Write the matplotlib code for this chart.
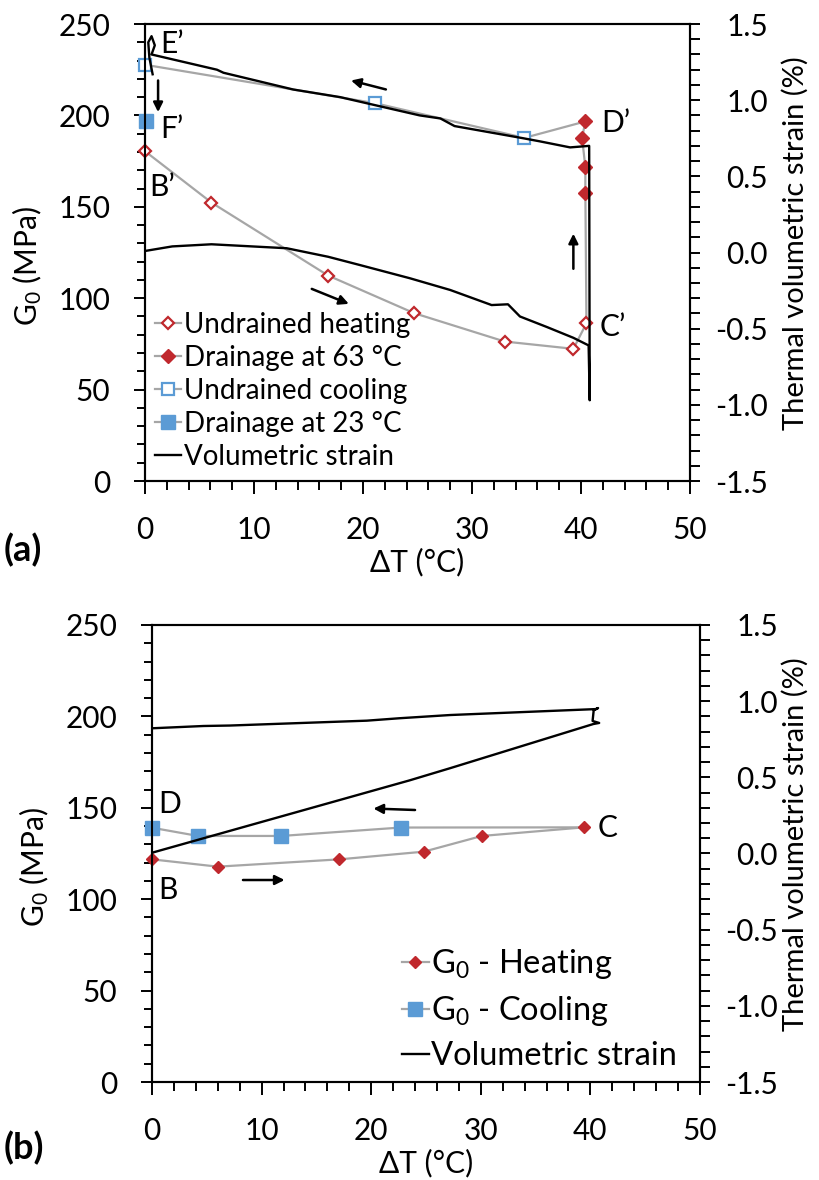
import matplotlib
matplotlib.use('Agg')
import matplotlib.pyplot as plt
from matplotlib.ticker import MultipleLocator, FormatStrFormatter

plt.rcParams['font.family'] = ['Lato', 'DejaVu Sans']
plt.rcParams['mathtext.fontset'] = 'custom'
plt.rcParams['mathtext.rm'] = 'Lato'
plt.rcParams['mathtext.it'] = 'Lato:italic'
plt.rcParams['axes.unicode_minus'] = False

RED = '#C0282D'
BLUE = '#5B9BD5'
GREY = '#A6A6A6'

# ── (a) undrained heating / drainage / undrained cooling ──────────
a_heat_dT = [0.0, 6.1, 16.8, 24.7, 33.0, 39.3, 40.5]
a_heat_G0 = [180.4, 152.3, 112.4, 91.8, 76.3, 72.3, 86.3]
a_drain63_dT = [40.4, 40.4, 40.1, 40.4]
a_drain63_G0 = [157.8, 171.7, 187.7, 196.7]
a_cool_dT = [34.8, 21.1, 0.0]
a_cool_G0 = [187.7, 206.7, 227.7]
a_drain23_dT = [0.1]
a_drain23_G0 = [197.2]

a_strain_dT = [0.0, 2.5, 6.1, 13.0, 16.8, 19.7, 24.3, 28.0, 31.8, 33.3, 34.4,
               36.9, 39.3, 40.7, 40.8, 40.75, 39.0, 36.2, 34.7, 28.4, 27.1,
               25.2, 17.9, 13.6, 7.2, 6.6, 0.6, 0.9, 0.6, 0.3, 0.4, 0.7]
a_strain = [0.01, 0.04, 0.054, 0.028, -0.028, -0.082, -0.169, -0.246, -0.345,
            -0.340, -0.42, -0.49, -0.56, -0.61, -0.97, 0.70, 0.69, 0.73, 0.75,
            0.83, 0.88, 0.90, 1.02, 1.07, 1.18, 1.20, 1.30, 1.36, 1.42, 1.38,
            1.28, 1.17]

# ── (b) drained heating / cooling ─────────────────────────────────
b_heat_dT = [0.0, 6.0, 17.1, 24.8, 30.1, 39.4]
b_heat_G0 = [121.8, 117.8, 121.8, 126.0, 134.6, 139.3]
b_cool_dT = [22.7, 11.8, 4.2, 0.0]
b_cool_G0 = [139.2, 134.6, 134.6, 139.1]

b_strain_dT = [0.0, 23.5, 27.2, 40.27, 40.8, 40.2, 40.3, 40.7, 40.5, 27.2,
               22.6, 19.6, 7.1, 4.7, 0.0]
b_strain = [0.005, 0.48, 0.56, 0.850, 0.857, 0.87, 0.94, 0.955, 0.948, 0.909,
            0.888, 0.872, 0.84, 0.837, 0.822]

FS = 21.5


def style_axes(ax, ax2, left_px, right_label_x):
    ax.set_xlim(0, 50)
    ax.set_ylim(0, 250)
    ax2.set_ylim(-1.5, 1.5)
    ax.xaxis.set_major_locator(MultipleLocator(10))
    ax.xaxis.set_minor_locator(MultipleLocator(2))
    ax.yaxis.set_major_locator(MultipleLocator(50))
    ax.yaxis.set_minor_locator(MultipleLocator(10))
    ax2.yaxis.set_major_locator(MultipleLocator(0.5))
    ax2.yaxis.set_minor_locator(MultipleLocator(0.1))
    ax2.yaxis.set_major_formatter(FormatStrFormatter('%.1f'))
    ax.tick_params(axis='x', which='major', direction='out', length=9.4,
                   width=1.4, pad=16, labelsize=FS)
    ax.tick_params(axis='x', which='minor', direction='out', length=6.5, width=1.4)
    ax.tick_params(axis='y', which='major', direction='out', length=8,
                   width=1.4, pad=17, labelsize=FS)
    ax.tick_params(axis='y', which='minor', direction='out', length=5.8, width=1.4)
    ax2.tick_params(axis='y', which='both', direction='out', length=7.2, width=1.4)
    ax2.tick_params(axis='y', which='major', pad=49, labelsize=FS)
    for lab in ax2.get_yticklabels():
        lab.set_horizontalalignment('right')
    for a in (ax, ax2):
        for sp in a.spines.values():
            sp.set_linewidth(1.5)
    ax.set_xlabel('ΔT (°C)', fontsize=FS)
    ax.xaxis.set_label_coords(0.5, -0.145)
    ax.set_ylabel('G$_0$ (MPa)', fontsize=FS)
    ax.yaxis.set_label_coords(-0.185, 0.47)
    ax2.set_ylabel('Thermal volumetric strain (%)', fontsize=21)
    ax2.yaxis.set_label_coords((right_label_x - left_px) / (ax.get_position().width * 820), 0.52)


def arrow(ax, x0, y0, x1, y1):
    ax.annotate('', xy=(x1, y1), xytext=(x0, y0),
                arrowprops=dict(arrowstyle='-|>', color='black', lw=1.8,
                                mutation_scale=14, shrinkA=0, shrinkB=0))


fig = plt.figure(figsize=(8.2, 11.8), dpi=100)

# ── Panel (a) ─────────────────────────────────────────────────────
ax = fig.add_axes([0.17683, 0.59237, 0.66463, 0.38729])
ax2 = ax.twinx()

ax.plot([a_heat_dT[-1]] + a_drain63_dT, [a_heat_G0[-1]] + a_drain63_G0,
        color=GREY, lw=1.6, zorder=2)
ax.plot([a_drain63_dT[-1]] + a_cool_dT, [a_drain63_G0[-1]] + a_cool_G0,
        color=GREY, lw=1.6, zorder=2)
h1, = ax.plot(a_heat_dT, a_heat_G0, color=GREY, lw=1.6, marker='D', ms=6.5,
              mfc='white', mec=RED, mew=1.6, clip_on=False, zorder=3,
              label='Undrained heating')
h2, = ax.plot(a_drain63_dT, a_drain63_G0, color=GREY, lw=0, marker='D', ms=6.8,
              mfc=RED, mec=RED, clip_on=False, zorder=3,
              label='Drainage at 63 °C')
h3, = ax.plot(a_cool_dT, a_cool_G0, color=GREY, lw=0, marker='s', ms=9,
              mfc='white', mec=BLUE, mew=1.6, clip_on=False, zorder=3,
              label='Undrained cooling')
h4, = ax.plot(a_drain23_dT, a_drain23_G0, color=GREY, lw=0, marker='s', ms=9.5,
              mfc=BLUE, mec=BLUE, clip_on=False, zorder=3,
              label='Drainage at 23 °C')
h5, = ax2.plot(a_strain_dT, a_strain, color='black', lw=1.7,
               label='Volumetric strain')

ax.text(1.4, 239.3, 'E’', fontsize=FS, va='center')
ax.text(1.4, 192.8, 'F’', fontsize=FS, va='center')
ax.text(0.4, 161.0, 'B’', fontsize=FS, va='center')
ax.text(41.9, 195.6, 'D’', fontsize=FS, va='center')
ax.text(41.7, 84.0, 'C’', fontsize=FS, va='center')
arrow(ax, 1.2, 219.1, 1.2, 201.8)
arrow(ax, 22.1, 214.2, 18.9, 219.1)
arrow(ax, 15.3, 105.1, 18.7, 96.9)
arrow(ax, 39.3, 116.1, 39.3, 135.3)

# legend handles: markers with the grey line through them
lh = [
    plt.Line2D([], [], color=GREY, lw=1.6, marker='D', ms=6.5, mfc='white',
               mec=RED, mew=1.6),
    plt.Line2D([], [], color=GREY, lw=1.6, marker='D', ms=6.8, mfc=RED, mec=RED),
    plt.Line2D([], [], color=GREY, lw=1.6, marker='s', ms=9, mfc='white',
               mec=BLUE, mew=1.6),
    plt.Line2D([], [], color=GREY, lw=1.6, marker='s', ms=9.5, mfc=BLUE, mec=BLUE),
    plt.Line2D([], [], color='black', lw=1.7),
]
ax2.legend(lh, [h.get_label() for h in (h1, h2, h3, h4, h5)],
           loc='upper left', bbox_to_anchor=(0.018, 0.37), frameon=False,
           fontsize=20, borderaxespad=0, borderpad=0, handlelength=0.95,
           handletextpad=0.1, labelspacing=0.25)
style_axes(ax, ax2, 145, 782)

# ── Panel (b) ─────────────────────────────────────────────────────
bx = fig.add_axes([0.18537, 0.08305, 0.66829, 0.38729])
bx2 = bx.twinx()

bx.plot([b_heat_dT[-1]] + b_cool_dT, [b_heat_G0[-1]] + b_cool_G0,
        color=GREY, lw=1.6, zorder=2)
g1, = bx.plot(b_heat_dT, b_heat_G0, color=GREY, lw=1.6, marker='D', ms=6.3,
              mfc=RED, mec=RED, clip_on=False, zorder=3)
g2, = bx.plot(b_cool_dT, b_cool_G0, color=GREY, lw=0, marker='s', ms=9.5,
              mfc=BLUE, mec=BLUE, clip_on=False, zorder=3)
g3, = bx2.plot(b_strain_dT, b_strain, color='black', lw=1.7)

bx.text(0.55, 152.1, 'D', fontsize=FS, va='center')
bx.text(0.55, 105.0, 'B', fontsize=FS, va='center')
bx.text(40.7, 139.0, 'C', fontsize=FS, va='center')
arrow(bx, 8.3, 110.5, 12.1, 110.5)
arrow(bx, 24.0, 148.8, 20.2, 149.6)

lhb = [
    plt.Line2D([], [], color=GREY, lw=1.6, marker='D', ms=6.3, mfc=RED, mec=RED),
    plt.Line2D([], [], color=GREY, lw=1.6, marker='s', ms=9.5, mfc=BLUE, mec=BLUE),
    plt.Line2D([], [], color='black', lw=1.7),
]
bx2.legend(lhb, ['G$_0$ - Heating', 'G$_0$ - Cooling', 'Volumetric strain'],
           loc='upper left', bbox_to_anchor=(0.456, 0.295), frameon=False,
           fontsize=23.5, borderaxespad=0, borderpad=0, handlelength=0.83,
           handletextpad=0.05, labelspacing=0.4)
style_axes(bx, bx2, 152, 782)

fig.text(4 / 820, 1 - 550 / 1180, '(a)', fontsize=26, fontweight='bold', va='center')
fig.text(4 / 820, 1 - 1148 / 1180, '(b)', fontsize=26, fontweight='bold', va='center')

fig.savefig('out.png', dpi=100)
